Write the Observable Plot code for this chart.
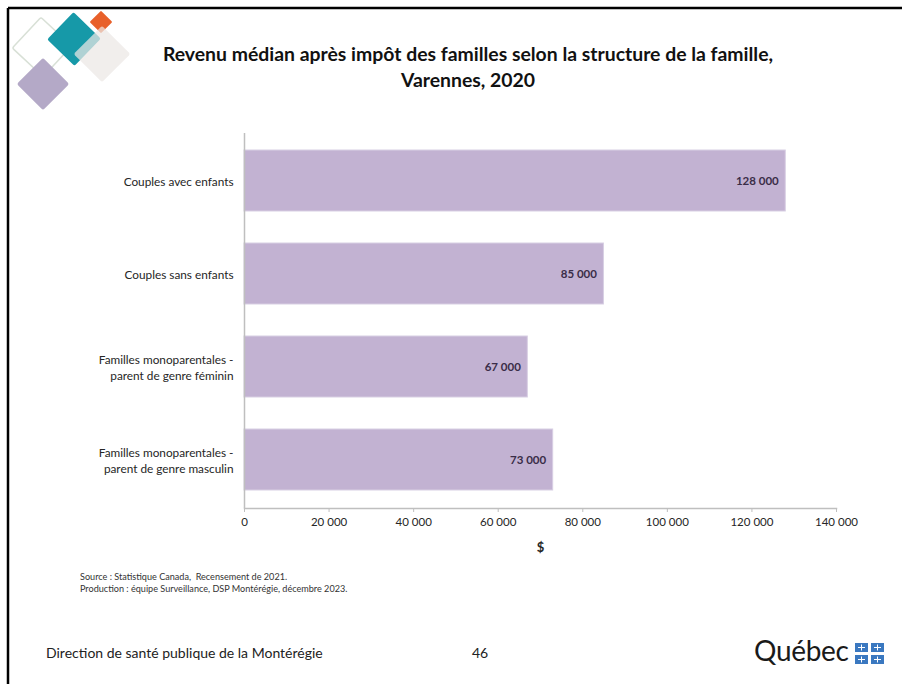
<!DOCTYPE html>
<html><head><meta charset="utf-8">
<script src="https://cdn.jsdelivr.net/npm/d3@7"></script>
<script src="https://cdn.jsdelivr.net/npm/@observablehq/plot@0.6"></script>
<style>
html,body{margin:0;padding:0;background:#fff;}
#page{position:relative;width:902px;height:684px;overflow:hidden;font-family:Lato,"Open Sans",sans-serif;background:#fff;}
.abs{position:absolute;}
#title{left:0;width:936px;top:41px;text-align:center;font-weight:bold;font-size:19.4px;line-height:26px;color:#111;}
#source{left:80px;top:571px;font-size:9.1px;line-height:12px;color:#333;}
#footer{left:46px;top:644px;font-size:14px;color:#222;}
#pageno{left:472px;top:644px;font-size:14px;color:#222;}
#qc{left:754px;top:633px;font-size:28px;color:#1a1a1a;letter-spacing:-0.3px;}
</style></head>
<body>
<div id="page">
  <svg class="abs" style="left:0;top:0" width="902" height="684">
    <line x1="8" y1="8" x2="902" y2="8" stroke="#000" stroke-width="2.5"/>
    <line x1="8" y1="8" x2="8" y2="684" stroke="#000" stroke-width="2.5"/>
    <g>
      <rect x="-21" y="-21" width="42" height="42" transform="translate(42,47) rotate(43)" fill="none" stroke="#d8e0d6" stroke-width="1.5" rx="2"/>
      <rect x="-19" y="-19" width="38" height="38" transform="translate(74,39) rotate(44)" fill="#1699a8" rx="2"/>
      <rect x="-8" y="-8" width="16" height="16" transform="translate(101,22) rotate(45)" fill="#e8602a" rx="1"/>
      <rect x="-20" y="-20" width="40" height="40" transform="translate(102,54) rotate(45)" fill="#ece8e4" opacity="0.72" rx="2"/>
      <rect x="-18.5" y="-18.5" width="37" height="37" transform="translate(43,84) rotate(45)" fill="#b4a9c7" rx="2"/>
    </g>
    <g id="flags"></g>
  </svg>
  <div id="title" class="abs">Revenu médian après impôt des familles selon la structure de la famille,<br>Varennes, 2020</div>
  <div id="chart" class="abs" style="left:0;top:0"></div>
  <div id="source" class="abs">Source : Statistique Canada,&nbsp; Recensement de 2021.<br>Production : équipe Surveillance, DSP Montérégie, décembre 2023.</div>
  <div id="footer" class="abs">Direction de santé publique de la Montérégie</div>
  <div id="pageno" class="abs">46</div>
  <div id="qc" class="abs">Québec</div>
</div>
<script>
const categories = [
  "Couples avec enfants",
  "Couples sans enfants",
  "Familles monoparentales -\nparent de genre féminin",
  "Familles monoparentales -\nparent de genre masculin"
];
const values = [128000, 85000, 67000, 73000];
const xTicks = [0, 20000, 40000, 60000, 80000, 100000, 120000, 140000];
const xLabel = "$";

const data = categories.map((c, i) => ({category: c, value: values[i]}));
const fr = d3.formatLocale({decimal: ",", thousands: "\u00a0", grouping: [3], currency: ["", " $"]});
const fmt = fr.format(",d");

const chart = Plot.plot({
  width: 902,
  height: 560,
  marginLeft: 244,
  marginRight: 66,
  marginTop: 133,
  marginBottom: 52,
  style: {fontFamily: "Lato, 'Open Sans', sans-serif", fontSize: "11.5px", color: "#262626", background: "transparent"},
  x: {domain: [0, 140000]},
  y: {domain: categories, paddingInner: 0.34, paddingOuter: 0.165},
  marks: [
    Plot.barX(data, {x: "value", y: "category", fill: "#c2b2d2", stroke: "#d8cfe3", strokeWidth: 1}),
    Plot.text(data, {x: "value", y: "category", text: d => fmt(d.value), textAnchor: "end", dx: -7, fill: "#3a2d48", fontWeight: "bold", fontSize: 11.5}),
    Plot.ruleX([0], {stroke: "#bfbfbf", strokeWidth: 1.5}),
    Plot.frame({anchor: "bottom", stroke: "#bfbfbf", strokeWidth: 1.5}),
    Plot.axisX({ticks: xTicks, tickFormat: fmt, tickSize: 4, tickPadding: 5, stroke: "#bfbfbf", fill: "#262626", label: xLabel, labelAnchor: "center", labelArrow: "none", labelOffset: 43, fontSize: 11.5}),
    Plot.axisY({tickSize: 0, tickPadding: 11, label: null, lineHeight: 1.35, fill: "#262626", fontSize: 11.8})
  ]
});
document.getElementById("chart").appendChild(chart);
chart.querySelectorAll("text").forEach(t => { if (t.textContent === xLabel) { t.setAttribute("font-weight", "bold"); t.setAttribute("font-size", "13"); } });

const g = document.getElementById("flags");
const ns = "http://www.w3.org/2000/svg";
[[855,643],[871,643],[855,655],[871,655]].forEach(([x,y]) => {
  const r = document.createElementNS(ns, "rect");
  r.setAttribute("x", x); r.setAttribute("y", y); r.setAttribute("width", 13); r.setAttribute("height", 9);
  r.setAttribute("fill", "#3a78c0"); g.appendChild(r);
  const h = document.createElementNS(ns, "rect");
  h.setAttribute("x", x + 3); h.setAttribute("y", y + 4); h.setAttribute("width", 7); h.setAttribute("height", 1); h.setAttribute("fill", "#fff"); g.appendChild(h);
  const v = document.createElementNS(ns, "rect");
  v.setAttribute("x", x + 6); v.setAttribute("y", y + 1.5); v.setAttribute("width", 1); v.setAttribute("height", 6); v.setAttribute("fill", "#fff"); g.appendChild(v);
});
</script>
</body></html>
